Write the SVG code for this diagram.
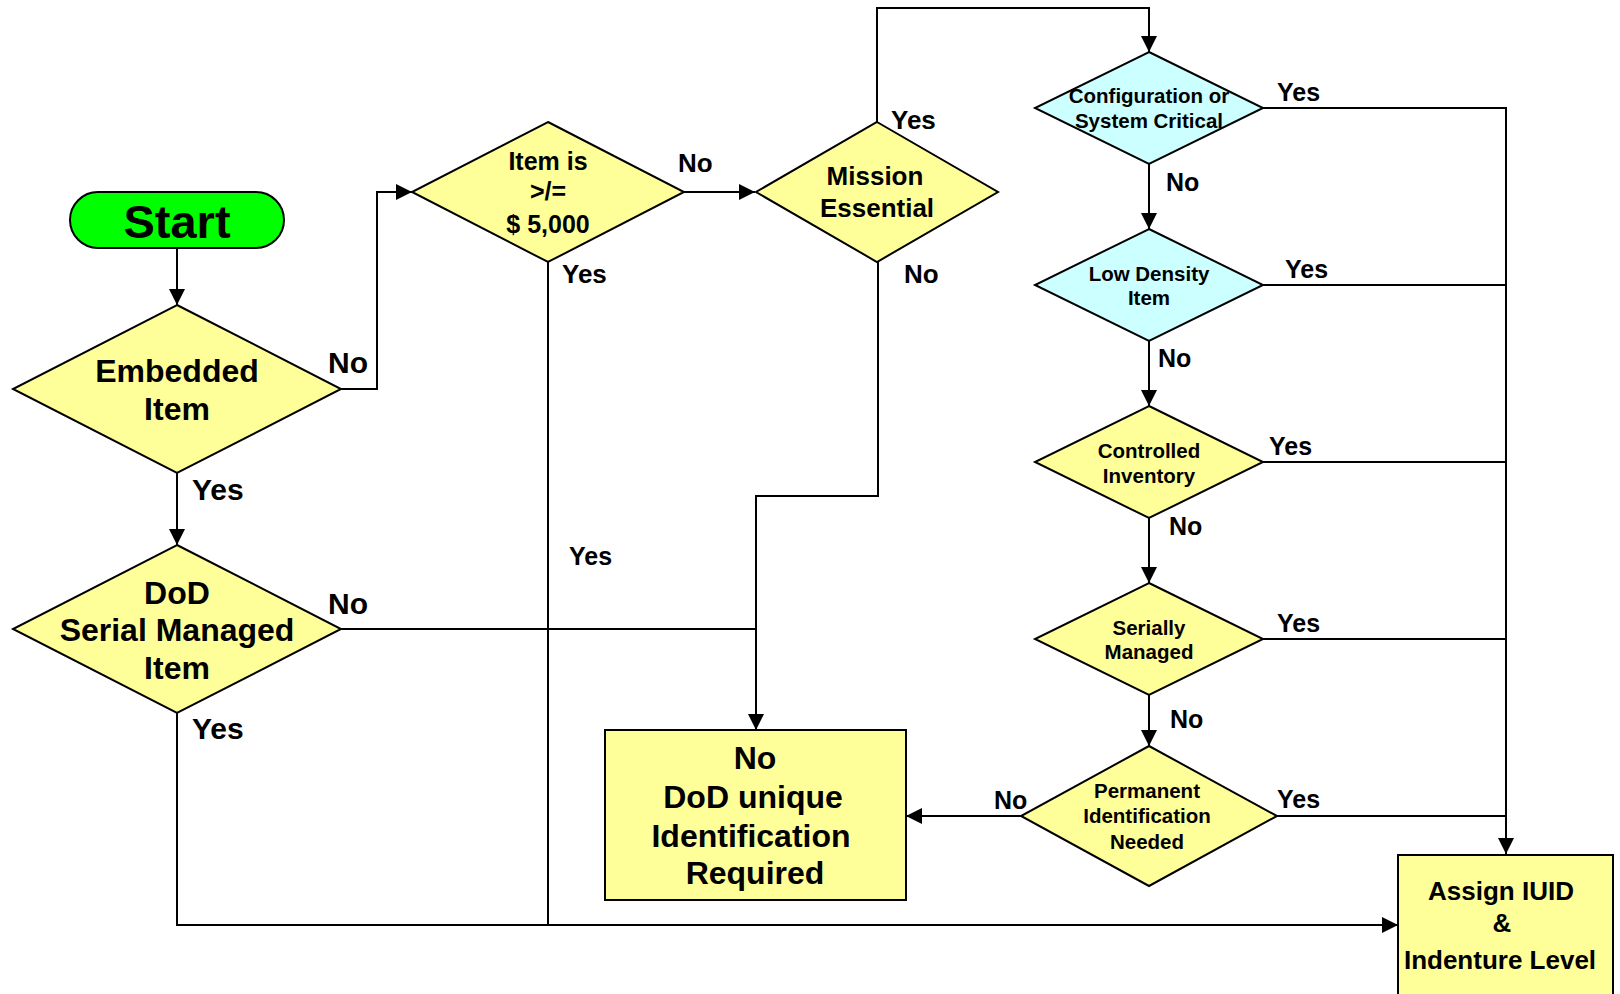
<svg xmlns="http://www.w3.org/2000/svg" width="1620" height="994" viewBox="0 0 1620 994">
<defs>
<style>
.y{fill:#FFFF99;stroke:#000;stroke-width:2}
.c{fill:#CCFFFF;stroke:#000;stroke-width:2}
.t{font-family:"Liberation Sans",Arial,sans-serif;font-weight:bold;fill:#000;text-anchor:middle}
.l{font-family:"Liberation Sans",Arial,sans-serif;font-weight:bold;fill:#000}
.e{fill:none;stroke:#000;stroke-width:2}
</style>
<marker id="ah" markerUnits="userSpaceOnUse" markerWidth="16" markerHeight="16" viewBox="0 0 16 16" refX="16" refY="8" orient="auto">
<path d="M0,0 L16,8 L0,16 Z" fill="#000"/>
</marker>
</defs>
<rect width="1620" height="994" fill="#fff"/>
<g id="connectors">
<path class="e" d="M177,248 V305" marker-end="url(#ah)"/>
<path class="e" d="M341,389 H377 V192 H412" marker-end="url(#ah)"/>
<path class="e" d="M177,473 V545" marker-end="url(#ah)"/>
<path class="e" d="M684,192 H755" marker-end="url(#ah)"/>
<path class="e" d="M877,122 V8 H1149 V52" marker-end="url(#ah)"/>
<path class="e" d="M878,262 V496 H756 V730" marker-end="url(#ah)"/>
<path class="e" d="M341,629 H756"/>
<path class="e" d="M548,262 V925"/>
<path class="e" d="M177,713 V925 H1398" marker-end="url(#ah)"/>
<path class="e" d="M1149,164 V229" marker-end="url(#ah)"/>
<path class="e" d="M1149,341 V406" marker-end="url(#ah)"/>
<path class="e" d="M1149,518 V583" marker-end="url(#ah)"/>
<path class="e" d="M1149,695 V746" marker-end="url(#ah)"/>
<path class="e" d="M1263,108 H1506 V854" marker-end="url(#ah)"/>
<path class="e" d="M1263,285 H1506"/>
<path class="e" d="M1263,462 H1506"/>
<path class="e" d="M1263,639 H1506"/>
<path class="e" d="M1277,816 H1506"/>
<path class="e" d="M1021,816 H906" marker-end="url(#ah)"/>
<text class="l" x="328" y="373" font-size="30">No</text>
<text class="l" x="192" y="500" font-size="30">Yes</text>
<text class="l" x="328" y="614" font-size="30">No</text>
<text class="l" x="192" y="739" font-size="30">Yes</text>
<text class="l" x="678" y="172" font-size="26">No</text>
<text class="l" x="562" y="283" font-size="26">Yes</text>
<text class="l" x="569" y="565" font-size="25">Yes</text>
<text class="l" x="891" y="129" font-size="26">Yes</text>
<text class="l" x="904" y="283" font-size="26">No</text>
<text class="l" x="1277" y="101" font-size="25">Yes</text>
<text class="l" x="1166" y="191" font-size="25">No</text>
<text class="l" x="1285" y="278" font-size="25">Yes</text>
<text class="l" x="1158" y="367" font-size="25">No</text>
<text class="l" x="1269" y="455" font-size="25">Yes</text>
<text class="l" x="1169" y="535" font-size="25">No</text>
<text class="l" x="1277" y="632" font-size="25">Yes</text>
<text class="l" x="1170" y="728" font-size="25">No</text>
<text class="l" x="1277" y="808" font-size="25">Yes</text>
<text class="l" x="994" y="809" font-size="25">No</text>
</g>
<g id="start">
<rect x="70" y="192" width="214" height="56" rx="28" fill="#00FF00" stroke="#000" stroke-width="2"/>
<text class="t" x="177" y="238" font-size="47">Start</text>
</g>
<g id="embedded">
<polygon class="y" points="177,305 341,389 177,473 13,389"/>
<text class="t" x="177" y="382" font-size="32">Embedded</text>
<text class="t" x="177" y="420" font-size="32">Item</text>
</g>
<g id="dod-serial">
<polygon class="y" points="177,545 341,629 177,713 13,629"/>
<text class="t" x="177" y="604" font-size="32">DoD</text>
<text class="t" x="177" y="641" font-size="32">Serial Managed</text>
<text class="t" x="177" y="679" font-size="32">Item</text>
</g>
<g id="item-value">
<polygon class="y" points="548,122 684,192 548,262 412,192"/>
<text class="t" x="548" y="170" font-size="25">Item is</text>
<text class="t" x="548" y="200" font-size="25">&gt;/=</text>
<text class="t" x="548" y="233" font-size="25">$ 5,000</text>
</g>
<g id="mission">
<polygon class="y" points="877,122 998,192 877,262 756,192"/>
<text class="t" x="875" y="185" font-size="26">Mission</text>
<text class="t" x="877" y="217" font-size="26">Essential</text>
</g>
<g id="config">
<polygon class="c" points="1149,52 1263,108 1149,164 1035,108"/>
<text class="t" x="1149" y="103" font-size="20.5">Configuration or</text>
<text class="t" x="1149" y="128" font-size="20.5">System Critical</text>
</g>
<g id="low-density">
<polygon class="c" points="1149,229 1263,285 1149,341 1035,285"/>
<text class="t" x="1149" y="281" font-size="20.5">Low Density</text>
<text class="t" x="1149" y="305" font-size="20.5">Item</text>
</g>
<g id="controlled">
<polygon class="y" points="1149,406 1263,462 1149,518 1035,462"/>
<text class="t" x="1149" y="458" font-size="20.5">Controlled</text>
<text class="t" x="1149" y="483" font-size="20.5">Inventory</text>
</g>
<g id="serially">
<polygon class="y" points="1149,583 1263,639 1149,695 1035,639"/>
<text class="t" x="1149" y="635" font-size="20.5">Serially</text>
<text class="t" x="1149" y="659" font-size="20.5">Managed</text>
</g>
<g id="permanent">
<polygon class="y" points="1149,746 1277,816 1149,886 1021,816"/>
<text class="t" x="1147" y="798" font-size="20.5">Permanent</text>
<text class="t" x="1147" y="823" font-size="20.5">Identification</text>
<text class="t" x="1147" y="849" font-size="20.5">Needed</text>
</g>
<g id="no-dod">
<rect class="y" x="605" y="730" width="301" height="170"/>
<text class="t" x="755" y="769" font-size="32">No</text>
<text class="t" x="753" y="808" font-size="32">DoD unique</text>
<text class="t" x="751" y="847" font-size="32">Identification</text>
<text class="t" x="755" y="884" font-size="32">Required</text>
</g>
<g id="assign">
<rect class="y" x="1398" y="855" width="215" height="160"/>
<text class="t" x="1501" y="900" font-size="26">Assign IUID</text>
<text class="t" x="1502" y="932" font-size="26">&amp;</text>
<text class="t" x="1500" y="969" font-size="26">Indenture Level</text>
</g>
</svg>
